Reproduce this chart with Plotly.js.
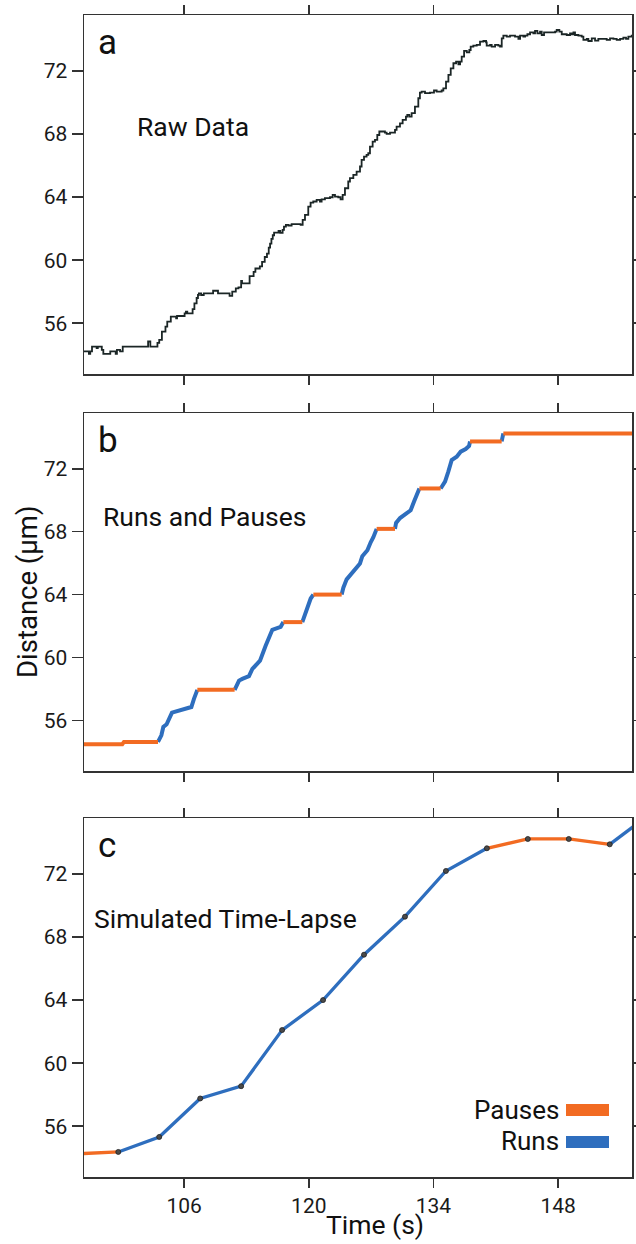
<!DOCTYPE html>
<html>
<head>
<meta charset="utf-8">
<script src="https://cdn.plot.ly/plotly-3.0.1.min.js"></script>
<style>
  html, body { margin: 0; padding: 0; background: #ffffff; }
  #chart { width: 636px; height: 1244px; }
</style>
</head>
<body>
<div id="chart"></div>
<script>
// ---- Raw bead position trace (time in s, distance in µm), step-sampled ----
const rawTime = [
  94.6, 95.3, 95.45, 95.65, 96.17, 96.3, 96.75, 96.92, 97.7, 98.31, 98.45, 98.8, 99.1,
  101.95, 102.2, 103.0, 103.2, 103.5, 103.9, 104.1, 104.5, 105.1, 105.2, 106.05, 106.2,
  106.35, 106.95, 107.15, 107.4, 107.55, 107.65, 107.9, 108.2, 109.25, 109.8, 111.1, 111.4,
  111.8, 112.1, 112.4, 112.5, 113.35, 113.8, 114.0, 114.5, 114.75, 115.05, 115.3, 115.5,
  115.65, 115.8, 115.95, 116.1, 116.6, 116.8, 117.06, 117.21, 117.43, 117.7, 118.07, 119.08,
  119.31, 119.57, 119.94, 120.2, 120.5, 120.88, 121.25, 121.44, 121.81, 122.38, 122.68,
  122.94, 123.31, 123.57, 123.8, 124.06, 124.43, 124.62, 125.0, 125.37, 125.75, 125.93,
  126.2, 126.49, 126.68, 126.87, 127.17, 127.43, 127.69, 127.92, 128.55, 128.74, 129.12,
  129.68, 129.86, 130.24, 130.54, 130.91, 131.06, 131.29, 131.55, 131.92, 132.3, 132.48,
  132.67, 133.05, 133.61, 134.06, 134.36, 134.92, 135.11, 135.41, 135.68, 135.94, 136.24,
  136.54, 136.8, 136.99, 137.17, 137.44, 137.74, 138.03, 138.18, 138.48, 138.86, 139.23,
  139.61, 139.91, 139.98, 140.36, 140.54, 140.92, 141.29, 141.48, 141.67, 141.85, 142.23,
  142.6, 143.16, 143.54, 143.73, 144.1, 144.29, 144.55, 144.85, 145.22, 145.41, 145.67,
  145.97, 146.16, 146.42, 147.66, 147.84, 148.14, 148.41, 148.97, 149.34, 149.53, 149.72,
  149.9, 150.28, 150.65, 150.84, 151.21, 151.4, 151.78, 152.15, 152.52, 153.46, 153.83,
  154.21, 154.58, 154.96, 155.33, 155.63, 155.89, 156.27, 156.6
];
const rawDistance = [
  54.21, 54.06, 54.21, 54.52, 54.42, 54.52, 54.31, 54.06, 54.21, 54.06, 54.31, 54.21, 54.52,
  54.84, 54.52, 54.75, 54.95, 55.47, 55.79, 56.10, 56.42, 56.31, 56.46, 56.63, 56.74,
  56.63, 56.90, 57.26, 57.60, 57.79, 57.89, 57.79, 57.89, 58.06, 57.89, 57.73, 58.00,
  58.21, 58.27, 58.69, 58.53, 58.99, 59.26, 59.47, 59.60, 59.89, 60.20, 60.42, 60.80,
  61.05, 61.35, 61.58, 61.75, 61.85, 61.73, 61.92, 62.13, 62.24, 62.20, 62.28, 62.24,
  62.55, 62.87, 63.40, 63.65, 63.72, 63.82, 63.72, 63.86, 63.93, 63.99, 64.14,
  64.03, 63.99, 63.86, 64.14, 64.56, 64.99, 65.20, 65.41, 65.62, 65.94, 66.36,
  66.57, 66.68, 66.78, 67.20, 67.52, 67.63, 67.94, 68.16, 68.09, 68.01, 68.09,
  68.26, 68.47, 68.68, 68.90, 69.11, 69.21, 69.11, 69.32, 69.74, 70.27, 70.63,
  70.69, 70.59, 70.63, 70.76, 70.69, 70.76, 70.90, 71.32, 71.75, 72.17, 72.49,
  72.59, 72.42, 72.59, 72.91, 73.27, 73.18, 73.33, 73.54, 73.61, 73.65, 73.86,
  73.90, 73.82, 73.61, 73.65, 73.54, 73.65, 73.61, 73.54, 74.07, 74.24, 74.18,
  74.24, 74.18, 74.03, 74.24, 74.18, 74.24, 74.33, 74.45, 74.39, 74.54, 74.39,
  74.49, 74.28, 74.45, 74.49, 74.60, 74.49, 74.33, 74.28, 74.39, 74.33, 74.45,
  74.28, 74.24, 74.18, 73.97, 74.03, 73.90, 74.07, 73.92, 74.03, 73.97, 74.07,
  74.03, 73.97, 74.03, 74.12, 74.03, 74.18, 74.24, 74.24
];

// ---- Segmented trace: vertices plus the state of the segment leaving each vertex ----
// P = pause, R = run
const segTime = [
  94.6, 99.05, 99.24, 103.06, 103.44, 103.66, 104.03, 104.63, 105.61, 106.81, 107.1, 107.48,
  111.67, 112.16, 112.53, 113.28, 113.66, 114.03, 114.52, 115.15, 115.9, 116.84, 117.14,
  119.27, 119.76, 120.21, 120.51,
  123.69, 123.88, 124.25, 124.82, 125.38, 125.75, 126.01, 126.58, 126.95, 127.25, 127.62,
  129.68, 129.8, 130.25, 130.81, 131.44, 131.82, 132.42,
  134.81, 135.3, 135.67, 136.05, 136.61, 137.06, 137.62, 138.0, 138.11,
  141.66, 141.85, 156.6
];
const segDistance = [
  54.48, 54.48, 54.63, 54.63, 55.05, 55.58, 55.75, 56.49, 56.63, 56.85, 57.37, 57.94,
  57.94, 58.53, 58.64, 58.81, 59.27, 59.53, 59.80, 60.75, 61.76, 61.95, 62.25,
  62.25, 62.96, 63.75, 64.00,
  64.00, 64.44, 64.97, 65.35, 65.71, 65.98, 66.44, 66.82, 67.33, 67.65, 68.18,
  68.18, 68.56, 68.87, 69.13, 69.36, 69.92, 70.75,
  70.75, 71.19, 71.82, 72.56, 72.77, 73.09, 73.26, 73.45, 73.74,
  73.74, 74.25, 74.25
];
const segState = [
  "P", "P", "P", "R", "R", "R", "R", "R", "R", "R", "R", "P",
  "R", "R", "R", "R", "R", "R", "R", "R", "R", "R", "P",
  "R", "R", "R", "P",
  "R", "R", "R", "R", "R", "R", "R", "R", "R", "R", "P",
  "R", "R", "R", "R", "R", "R", "P",
  "R", "R", "R", "R", "R", "R", "R", "R", "P",
  "R", "P"
];

// ---- Time-lapse samples (one frame every 4.6 s) ----
const lapseTime = [94.0, 98.6, 103.2, 107.8, 112.4, 117.0, 121.6, 126.2, 130.8, 135.4, 140.0, 144.6, 149.2, 153.8, 158.4];
const lapseDistance = [54.25, 54.37, 55.32, 57.76, 58.54, 62.10, 64.00, 66.88, 69.29, 72.19, 73.63, 74.22, 74.22, 73.88, 75.83];
const lapseState = ["P", "R", "R", "R", "R", "R", "R", "R", "R", "R", "P", "P", "P", "R"];

// ---- Labels ----
const panelLetters = ["a", "b", "c"];
const panelNames = ["Raw Data", "Runs and Pauses", "Simulated Time-Lapse"];
const legendNames = ["Pauses", "Runs"];
const xTitle = "Time (s)";
const yTitle = "Distance (µm)";

const PAUSE = "#F26B22";
const RUN = "#2E6EBE";
const RAW = "#1B2626";
const AXIS = "#333333";
const FONT = "Roboto, 'Noto Sans', sans-serif";

// split a polyline into the pieces whose segment state equals `key`
function pick(T, V, S, key) {
  const x = [], y = [];
  let last = -2;
  for (let i = 0; i < S.length; i++) {
    if (S[i] !== key) continue;
    if (last !== i) {
      if (x.length) { x.push(null); y.push(null); }
      x.push(T[i]); y.push(V[i]);
    }
    x.push(T[i + 1]); y.push(V[i + 1]);
    last = i + 1;
  }
  return { x, y };
}

const bRun = pick(segTime, segDistance, segState, "R");
const bPause = pick(segTime, segDistance, segState, "P");
const cRun = pick(lapseTime, lapseDistance, lapseState, "R");
const cPause = pick(lapseTime, lapseDistance, lapseState, "P");

const traces = [
  { x: rawTime, y: rawDistance, xaxis: "x", yaxis: "y", mode: "lines",
    line: { color: RAW, width: 1.8, shape: "hv" }, hoverinfo: "skip" },
  { x: bRun.x, y: bRun.y, xaxis: "x2", yaxis: "y2", mode: "lines",
    line: { color: RUN, width: 4 }, connectgaps: false },
  { x: bPause.x, y: bPause.y, xaxis: "x2", yaxis: "y2", mode: "lines",
    line: { color: PAUSE, width: 4 }, connectgaps: false },
  { x: cRun.x, y: cRun.y, xaxis: "x3", yaxis: "y3", mode: "lines",
    line: { color: RUN, width: 3.3 }, connectgaps: false },
  { x: cPause.x, y: cPause.y, xaxis: "x3", yaxis: "y3", mode: "lines",
    line: { color: PAUSE, width: 3.3 }, connectgaps: false },
  { x: lapseTime, y: lapseDistance, xaxis: "x3", yaxis: "y3", mode: "markers",
    marker: { size: 5, color: "#4a4a4a", line: { width: 0.8, color: "#222" } } }
];

// figure geometry (pixels)
const W = 636, H = 1244, L = 84, R = 4, T = 15, B = 67;
const PW = W - L - R, PH = H - T - B;
const px = X => (X - L) / PW;
const py = Y => (H - B - Y) / PH;

function xAxis(anchor, labels) {
  return {
    anchor, range: [94.75, 156.3], tick0: 106, dtick: 14, ticks: "outside",
    ticklen: 9, tickwidth: 1.5, tickcolor: AXIS, showline: true, linewidth: 1.5,
    linecolor: AXIS, mirror: "ticks", showgrid: false, zeroline: false,
    showticklabels: labels, tickfont: { family: FONT, size: 21, color: "#1a1a1a" }
  };
}
function yAxis(anchor, top, bottom) {
  return {
    anchor, domain: [py(bottom), py(top)], range: [52.78, 75.55], tick0: 0, dtick: 4,
    ticks: "outside", ticklen: 11, tickwidth: 1.5, tickcolor: AXIS, showline: true,
    linewidth: 1.5, linecolor: AXIS, mirror: "ticks", showgrid: false, zeroline: false,
    tickfont: { family: FONT, size: 21, color: "#1a1a1a" }
  };
}

const panelTops = [15, 413, 818];
const panelBottoms = [374, 771, 1177];
const letterMid = [43, 441, 846];
const nameMid = [126, 516, 918];
const nameLeft = [135, 101, 92];

const annotations = [];
panelLetters.forEach((s, i) => annotations.push({
  text: s, xref: "paper", yref: "paper", x: px(96), y: py(letterMid[i]),
  xanchor: "left", yanchor: "middle", showarrow: false,
  font: { family: FONT, size: 35, color: "#111" }
}));
panelNames.forEach((s, i) => annotations.push({
  text: s, xref: "paper", yref: "paper", x: px(nameLeft[i]), y: py(nameMid[i]),
  xanchor: "left", yanchor: "middle", showarrow: false,
  font: { family: FONT, size: 26.5, color: "#111" }
}));
annotations.push({
  text: yTitle, xref: "paper", yref: "paper", x: px(27), y: py(592),
  xanchor: "center", yanchor: "middle", textangle: -90, showarrow: false,
  font: { family: FONT, size: 27.5, color: "#111" }
});
annotations.push({
  text: xTitle, xref: "paper", yref: "paper", x: px(375), y: py(1224),
  xanchor: "center", yanchor: "middle", showarrow: false,
  font: { family: FONT, size: 26.5, color: "#111" }
});
const legendMid = [1109.5, 1141];
const legendColors = [PAUSE, RUN];
const swatchTop = [1104, 1136];
const shapes = [];
legendNames.forEach((s, i) => {
  annotations.push({
    text: s, xref: "paper", yref: "paper", x: px(561), y: py(legendMid[i]),
    xanchor: "right", yanchor: "middle", showarrow: false,
    font: { family: FONT, size: 26, color: "#111" }
  });
  shapes.push({
    type: "rect", xref: "paper", yref: "paper",
    x0: px(566), x1: px(609), y0: py(swatchTop[i] + 12), y1: py(swatchTop[i]),
    fillcolor: legendColors[i], line: { width: 0 }
  });
});

const layout = {
  width: W, height: H, margin: { l: L, r: R, t: T, b: B, pad: 0 },
  paper_bgcolor: "#ffffff", plot_bgcolor: "#ffffff", showlegend: false,
  font: { family: FONT, color: "#111" },
  xaxis: xAxis("y", false), yaxis: yAxis("x", panelTops[0], panelBottoms[0]),
  xaxis2: xAxis("y2", false), yaxis2: yAxis("x2", panelTops[1], panelBottoms[1]),
  xaxis3: xAxis("y3", true), yaxis3: yAxis("x3", panelTops[2], panelBottoms[2]),
  annotations, shapes
};

Plotly.newPlot("chart", traces, layout, { displayModeBar: false, staticPlot: true });
</script>
</body>
</html>
